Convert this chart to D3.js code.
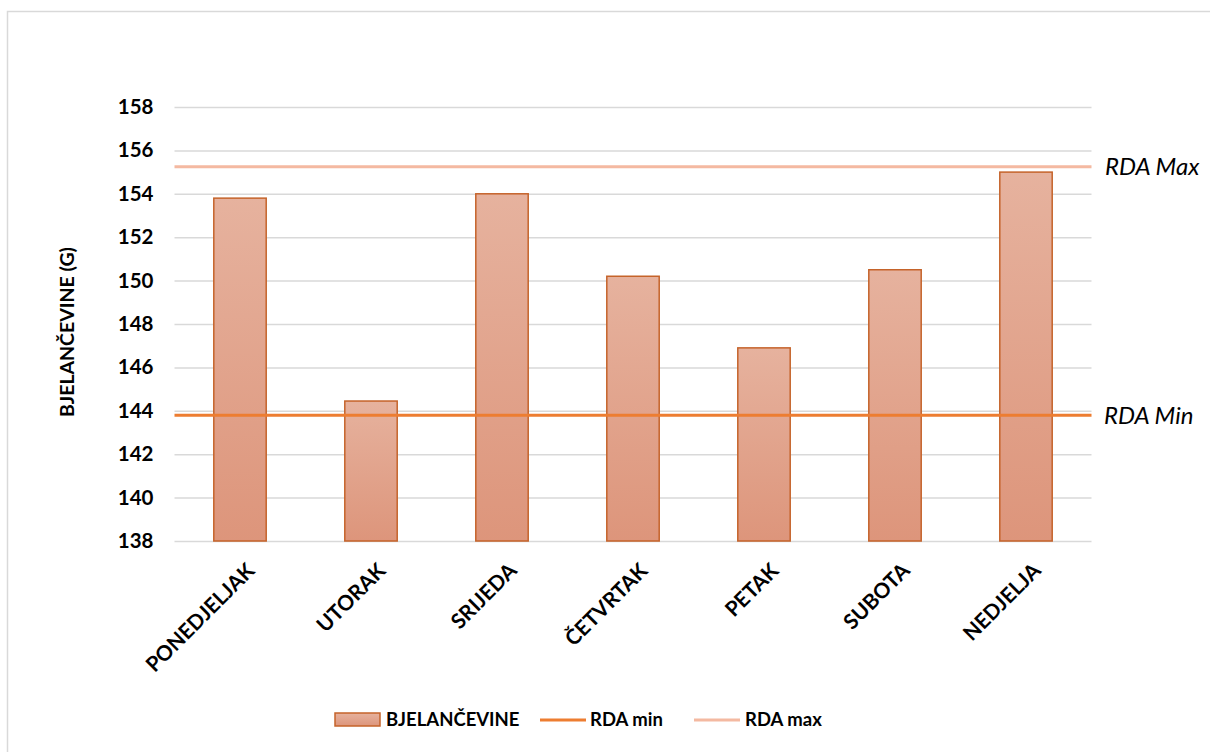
<!DOCTYPE html>
<html><head><meta charset="utf-8">
<script src="https://cdn.jsdelivr.net/npm/d3@7"></script>
<style>
body{margin:0;background:#fff;font-family:Lato,"Open Sans",sans-serif;}
</style></head>
<body>
<svg id="chart" width="1210" height="752"></svg>
<script>
const categories = ["PONEDJELJAK","UTORAK","SRIJEDA","ČETVRTAK","PETAK","SUBOTA","NEDJELJA"];
const values = [153.8, 144.45, 154.0, 150.2, 146.9, 150.5, 155.0];
const rdaMin = 143.8;
const rdaMax = 155.25;
const yTicks = [138,140,142,144,146,148,150,152,154,156,158];
const seriesNames = ["BJELANČEVINE","RDA min","RDA max"];

const svg = d3.select("#chart");
const m = {left:174.5, right:1091.5, top:107, bottom:541};

svg.append("rect").attr("x",7.5).attr("y",11.5).attr("width",1215).attr("height",760)
  .attr("fill","#fff").attr("stroke","#d9d9d9").attr("stroke-width",1.5);

const defs = svg.append("defs");
const grad = defs.append("linearGradient").attr("id","barGrad").attr("x1",0).attr("y1",0).attr("x2",0).attr("y2",1);
grad.append("stop").attr("offset","0%").attr("stop-color","#e6b29e");
grad.append("stop").attr("offset","100%").attr("stop-color","#dd957b");

const x = d3.scaleBand().domain(categories).range([m.left,m.right]).paddingInner(0.6).paddingOuter(0.3);
const y = d3.scaleLinear().domain([138,158]).range([m.bottom,m.top]);

// gridlines
const yAxis = d3.axisLeft(y).tickValues(yTicks).tickSize(-(m.right-m.left)).tickFormat(d3.format("d"));
const gy = svg.append("g").attr("transform",`translate(${m.left},0)`).call(yAxis);
gy.select(".domain").remove();
gy.selectAll(".tick line").attr("stroke","#d9d9d9").attr("stroke-width",1.5);
gy.selectAll(".tick text").attr("x",-21).attr("font-size",20.5).attr("font-weight","bold")
  .attr("fill","#000").attr("font-family","Lato");

// bars
svg.append("g").selectAll("rect").data(categories).join("rect")
  .attr("x",d=>x(d)).attr("width",x.bandwidth())
  .attr("y",(d,i)=>y(values[i])).attr("height",(d,i)=>y(138)-y(values[i]))
  .attr("fill","url(#barGrad)").attr("stroke","#c5632a").attr("stroke-width",1.5);

// x axis
const xAxis = d3.axisBottom(x).tickSize(0);
const gx = svg.append("g").attr("transform",`translate(0,${m.bottom})`).call(xAxis);
gx.select(".domain").remove();
gx.selectAll(".tick text").attr("font-size",21).attr("font-weight","bold").attr("fill","#000")
  .attr("font-family","Lato")
  .attr("text-anchor","end").attr("transform","translate(16,31) rotate(-45)").attr("dy",0).attr("y",0);

// RDA lines
svg.append("line").attr("x1",m.left).attr("x2",m.right).attr("y1",y(rdaMax)).attr("y2",y(rdaMax))
  .attr("stroke","#f4b9a1").attr("stroke-width",3);
svg.append("line").attr("x1",m.left).attr("x2",m.right).attr("y1",y(rdaMin)).attr("y2",y(rdaMin))
  .attr("stroke","#ed7d31").attr("stroke-width",3);

svg.append("text").attr("x",1105).attr("y",y(rdaMax)).attr("dy","0.35em").text("RDA Max")
  .attr("font-size",24).attr("font-style","italic").attr("font-family","Lato");
svg.append("text").attr("x",1104).attr("y",y(rdaMin)).attr("dy","0.35em").text("RDA Min")
  .attr("font-size",24).attr("font-style","italic").attr("font-family","Lato");

// y title
svg.append("text").attr("transform",`translate(74,332) rotate(-90)`)
  .attr("text-anchor","middle").attr("font-size",19.5).attr("font-weight","bold")
  .attr("font-family","Lato").text("BJELANČEVINE (G)");

// legend
const lg = svg.append("g");
lg.append("rect").attr("x",335).attr("y",713).attr("width",45).attr("height",13)
  .attr("fill","url(#barGrad)").attr("stroke","#c5632a").attr("stroke-width",1.5);
lg.append("text").attr("x",386).attr("y",720).attr("dy","0.35em").text(seriesNames[0]);
lg.append("line").attr("x1",540).attr("x2",586).attr("y1",720).attr("y2",720).attr("stroke","#ed7d31").attr("stroke-width",3);
lg.append("text").attr("x",590).attr("y",720).attr("dy","0.35em").text(seriesNames[1]);
lg.append("line").attr("x1",694).attr("x2",740).attr("y1",720).attr("y2",720).attr("stroke","#f4b9a1").attr("stroke-width",3);
lg.append("text").attr("x",745).attr("y",720).attr("dy","0.35em").text(seriesNames[2]);
lg.selectAll("text").attr("font-size",18.5).attr("font-weight","bold").attr("font-family","Lato");
</script>
</body></html>
